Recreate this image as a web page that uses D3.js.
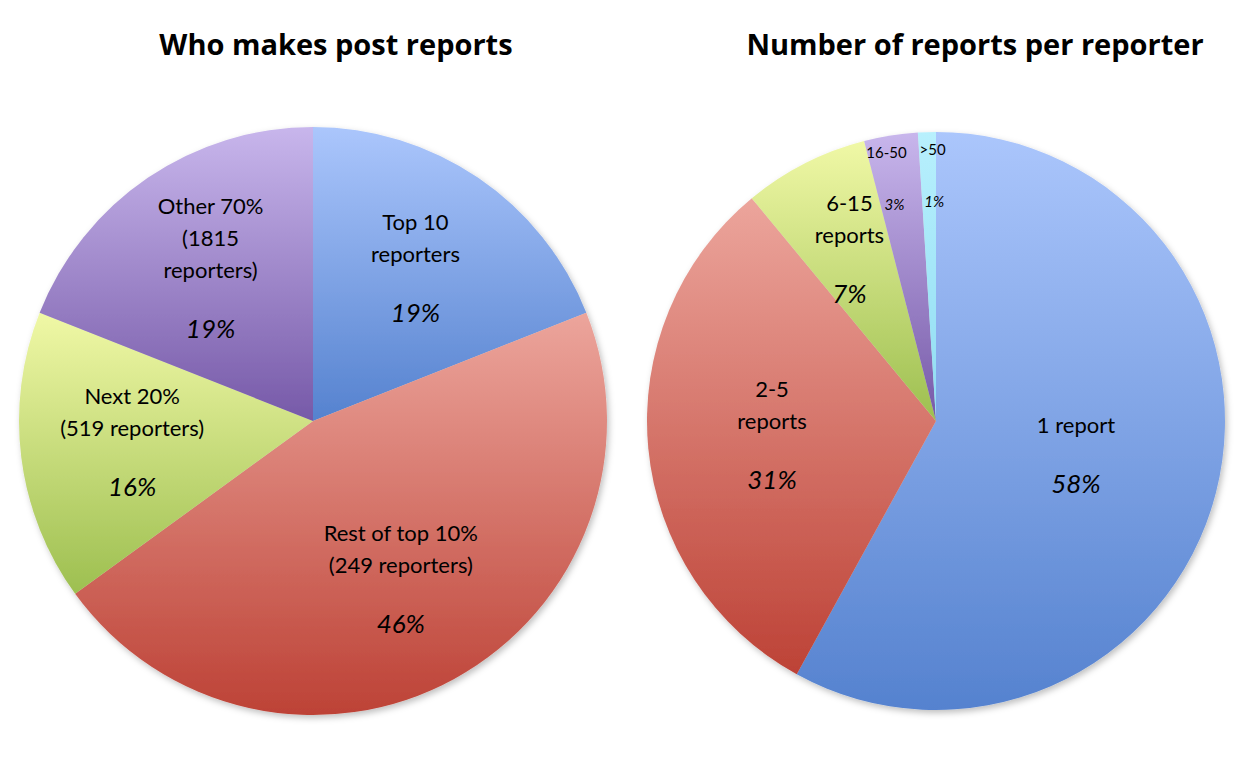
<!DOCTYPE html>
<html><head><meta charset="utf-8">
<script src="https://cdn.jsdelivr.net/npm/d3@7"></script>
<style>body{margin:0;background:#fff}svg{display:block}</style>
</head><body><svg id="c" width="1254" height="772"></svg>
<script>
const leftTitle = "Who makes post reports";
const leftLabels = [["Top 10","reporters"],["Rest of top 10%","(249 reporters)"],["Next 20%","(519 reporters)"],["Other 70%","(1815","reporters)"]];
const leftValues = [19, 46, 16, 19];
const leftColors = ["blue","red","green","purple"];
const rightTitle = "Number of reports per reporter";
const rightLabels = [["1 report"],["2-5","reports"],["6-15","reports"],["16-50"],[">50"]];
const rightValues = [58, 31, 7, 3, 1];
const rightColors = ["blue","red","green","purple","cyan"];

const grads = {blue:["#abc6fc","#5582cf"],red:["#eca59c","#bd4236"],green:["#f0f8a6","#9dbf50"],purple:["#c8b6ec","#7659a8"],cyan:["#b8f0fd","#8fdcf2"]};
const svg = d3.select("#c");
const defs = svg.append("defs");
for (const k in grads){
  const g = defs.append("linearGradient").attr("id","g-"+k).attr("x1",0).attr("y1",0).attr("x2",0).attr("y2",1);
  g.append("stop").attr("offset","0%").attr("stop-color",grads[k][0]);
  g.append("stop").attr("offset","100%").attr("stop-color",grads[k][1]);
}
const f = defs.append("filter").attr("id","sh").attr("x","-10%").attr("y","-10%").attr("width","120%").attr("height","120%");
f.append("feDropShadow").attr("dx",2).attr("dy",3).attr("stdDeviation",3).attr("flood-opacity",0.25);

function drawPie(cx, cy, R, title, titleX, labels, values, colors, big){
  svg.append("text").attr("x",titleX).attr("y",55).attr("text-anchor","middle")
    .attr("font-family","Open Sans, sans-serif").attr("font-weight","bold").attr("font-size",29).text(title);
  const g = svg.append("g").attr("transform",`translate(${cx},${cy})`);
  const arcs = d3.pie().sort(null).value(d=>d)(values);
  const arc = d3.arc().innerRadius(0).outerRadius(R);
  g.append("g").attr("filter","url(#sh)").selectAll("path").data(arcs).join("path")
    .attr("d",arc).attr("fill",(d,i)=>`url(#g-${colors[i]})`);
  arcs.forEach((d,i)=>{
    const small = d.data < 5;
    const a = (d.startAngle+d.endAngle)/2;
    const lines = labels[i];
    const t = g.append("text").attr("text-anchor","middle").attr("font-family","Lato, sans-serif");
    if (small){
      const dx = i===3 ? -8 : 5;
      const xn = Math.sin(a)*R*0.92 + dx, yn = -Math.cos(a)*R*0.92;
      const xp = Math.sin(a)*R*0.74 + dx, yp = -Math.cos(a)*R*0.74;
      t.append("tspan").attr("x",xn).attr("y",yn).attr("font-size",15).text(lines[0]);
      t.append("tspan").attr("x",xp).attr("y",yp).attr("font-size",15).attr("font-style","italic").text(d.data+"%");
      return;
    }
    const rf = big ? 0.62 : (i===0?0.5:(i===1?0.57:0.66));
    const x = Math.sin(a)*R*rf, y = -Math.cos(a)*R*rf;
    const lh = 32, gap = 60;
    const total = (lines.length-1)*lh + gap;
    const y0 = y - total/2 + 6;
    lines.forEach((l,j)=>t.append("tspan").attr("x",x).attr("y",y0+j*lh).attr("font-size",22).text(l));
    t.append("tspan").attr("x",x).attr("y",y0+(lines.length-1)*lh+gap)
      .attr("font-size",26).attr("font-style","italic").text(d.data+"%");
  });
}
drawPie(313, 421, 294, leftTitle, 336, leftLabels, leftValues, leftColors, true);
drawPie(936, 421, 289, rightTitle, 975, rightLabels, rightValues, rightColors, false);
</script></body></html>
